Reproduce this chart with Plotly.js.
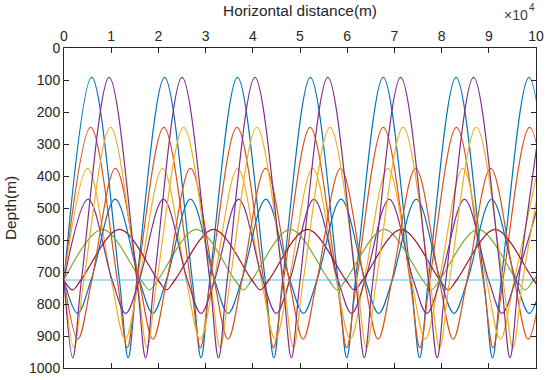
<!DOCTYPE html>
<html>
<head>
<meta charset="utf-8">
<script src="https://cdn.plot.ly/plotly-3.0.1.min.js"></script>
<style>html,body{margin:0;padding:0;background:#fff;}#chart{width:550px;height:380px;}</style>
</head>
<body>
<div id="chart"></div>
<script>
// Horizontal distance in units of 1e4 m (axis shows x10^4), depth in m.
// Key points (source crossings, upper turning points, lower turning points).

// Ray 1 (blue, largest angle, up-going)
const ray1X = [0,0.587,1.174,1.359, 1.544,2.131,2.718,2.903, 3.088,3.675,4.262,4.447, 4.632,5.219,5.806,5.991, 6.176,6.763,7.350,7.535, 7.720,8.307,8.894,9.079, 9.264,9.851,10.438];
const ray1Z = [725,92,725,968, 725,92,725,968, 725,92,725,968, 725,92,725,968, 725,92,725,968, 725,92,725,968, 725,92,725];
// Ray 2 (orange, up-going)
const ray2X = [0,0.565,1.130,1.340, 1.550,2.115,2.680,2.890, 3.100,3.665,4.230,4.440, 4.650,5.215,5.780,5.990, 6.200,6.765,7.330,7.540, 7.750,8.315,8.880,9.090, 9.300,9.865,10.430];
const ray2Z = [725,248,725,937, 725,248,725,937, 725,248,725,937, 725,248,725,937, 725,248,725,937, 725,248,725,937, 725,248,725];
// Ray 3 (yellow, up-going)
const ray3X = [0,0.500,1.000,1.295, 1.590,2.090,2.590,2.885, 3.180,3.680,4.180,4.475, 4.770,5.270,5.770,6.065, 6.360,6.860,7.360,7.655, 7.950,8.450,8.950,9.245, 9.540,10.040];
const ray3Z = [725,376,725,910, 725,376,725,910, 725,376,725,910, 725,376,725,910, 725,376,725,910, 725,376,725,910, 725,376];
// Ray 4 (purple, up-going)
const ray4X = [0,0.510,1.020,1.308, 1.595,2.105,2.615,2.903, 3.190,3.700,4.210,4.498, 4.785,5.295,5.805,6.093, 6.380,6.890,7.400,7.688, 7.975,8.485,8.995,9.283, 9.570,10.080];
const ray4Z = [725,472,725,829, 725,472,725,829, 725,472,725,829, 725,472,725,829, 725,472,725,829, 725,472,725,829, 725,472];
// Ray 5 (green, smallest angle, up-going)
const ray5X = [0,0.815,1.630,1.810, 1.990,2.805,3.620,3.800, 3.980,4.795,5.610,5.790, 5.970,6.785,7.600,7.780, 7.960,8.775,9.590,9.770, 9.950,10.765];
const ray5Z = [725,567,725,756, 725,567,725,756, 725,567,725,756, 725,567,725,756, 725,567,725,756, 725,567];
// Ray 6 (light blue, horizontal along the axis)
const ray6X = [0,10];
const ray6Z = [725,725];
// Ray 7 (dark red, smallest angle, down-going)
const ray7X = [0,0.180,0.360,1.175, 1.990,2.170,2.350,3.165, 3.980,4.160,4.340,5.155, 5.970,6.150,6.330,7.145, 7.960,8.140,8.320,9.135, 9.950,10.130,10.310];
const ray7Z = [725,756,725,567, 725,756,725,567, 725,756,725,567, 725,756,725,567, 725,756,725,567, 725,756,725];
// Ray 8 (blue, down-going)
const ray8X = [0,0.288,0.575,1.085, 1.595,1.883,2.170,2.680, 3.190,3.478,3.765,4.275, 4.785,5.073,5.360,5.870, 6.380,6.668,6.955,7.465, 7.975,8.263,8.550,9.060, 9.570,9.858,10.145];
const ray8Z = [725,829,725,472, 725,829,725,472, 725,829,725,472, 725,829,725,472, 725,829,725,472, 725,829,725,472, 725,829,725];
// Ray 9 (orange, down-going)
const ray9X = [0,0.295,0.590,1.090, 1.590,1.885,2.180,2.680, 3.180,3.475,3.770,4.270, 4.770,5.065,5.360,5.860, 6.360,6.655,6.950,7.450, 7.950,8.245,8.540,9.040, 9.540,9.835,10.130];
const ray9Z = [725,910,725,376, 725,910,725,376, 725,910,725,376, 725,910,725,376, 725,910,725,376, 725,910,725,376, 725,910,725];
// Ray 10 (yellow, down-going)
const ray10X = [0,0.210,0.420,0.985, 1.550,1.760,1.970,2.535, 3.100,3.310,3.520,4.085, 4.650,4.860,5.070,5.635, 6.200,6.410,6.620,7.185, 7.750,7.960,8.170,8.735, 9.300,9.510,9.720,10.285];
const ray10Z = [725,937,725,248, 725,937,725,248, 725,937,725,248, 725,937,725,248, 725,937,725,248, 725,937,725,248, 725,937,725,248];
// Ray 11 (purple, largest angle, down-going)
const ray11X = [0,0.185,0.370,0.957, 1.544,1.729,1.914,2.501, 3.088,3.273,3.458,4.045, 4.632,4.817,5.002,5.589, 6.176,6.361,6.546,7.133, 7.720,7.905,8.090,8.677, 9.264,9.449,9.634,10.221];
const ray11Z = [725,968,725,92, 725,968,725,92, 725,968,725,92, 725,968,725,92, 725,968,725,92, 725,968,725,92, 725,968,725,92];

const xTicks = [0,1,2,3,4,5,6,7,8,9,10];
const yTicks = [0,100,200,300,400,500,600,700,800,900,1000];

const rays = [
  [ray1X, ray1Z, '#0072BD'],
  [ray2X, ray2Z, '#D95319'],
  [ray3X, ray3Z, '#EDB120'],
  [ray4X, ray4Z, '#7E2F8E'],
  [ray5X, ray5Z, '#77AC30'],
  [ray6X, ray6Z, '#4DBEEE'],
  [ray7X, ray7Z, '#A2142F'],
  [ray8X, ray8Z, '#0072BD'],
  [ray9X, ray9Z, '#D95319'],
  [ray10X, ray10Z, '#EDB120'],
  [ray11X, ray11Z, '#7E2F8E']
];

const traces = rays.map(r => ({
  x: r[0], y: r[1], type: 'scatter', mode: 'lines',
  line: {color: r[2], width: 1.2, shape: 'spline', smoothing: 1},
  hoverinfo: 'skip', showlegend: false
}));

const FONT = 'Liberation Sans, Arial, Helvetica, sans-serif';
const AX = '#262626';

const layout = {
  width: 550, height: 380,
  margin: {l: 64, r: 14, t: 48, b: 12},
  paper_bgcolor: '#fff', plot_bgcolor: '#fff',
  font: {family: FONT, color: AX, size: 14},
  showlegend: false,
  xaxis: {
    side: 'top', range: [0, 10], tickvals: xTicks, ticktext: xTicks.map(String),
    ticks: 'inside', ticklen: 5, tickwidth: 1, tickcolor: AX,
    showline: true, linecolor: AX, linewidth: 1, mirror: 'allticks',
    showgrid: false, zeroline: false,
    tickfont: {size: 14, color: AX, family: FONT},
    title: {text: 'Horizontal distance(m)', font: {size: 15.4, color: AX, family: FONT}, standoff: 8}
  },
  yaxis: {
    range: [1000, 0], tickvals: yTicks, ticktext: yTicks.map(String),
    ticks: 'inside', ticklen: 5, tickwidth: 1, tickcolor: AX,
    showline: true, linecolor: AX, linewidth: 1, mirror: 'allticks',
    showgrid: false, zeroline: false,
    tickfont: {size: 14, color: AX, family: FONT},
    title: {text: 'Depth(m)', font: {size: 15.4, color: AX, family: FONT}, standoff: 8}
  },
  annotations: [
    {
      xref: 'paper', yref: 'paper', x: 0.987, y: 1.103, xanchor: 'right', yanchor: 'middle',
      showarrow: false, text: '×10', font: {size: 14, color: '#404040', family: FONT}
    },
    {
      xref: 'paper', yref: 'paper', x: 0.981, y: 1.126, xanchor: 'left', yanchor: 'middle',
      showarrow: false, text: '4', font: {size: 10, color: '#404040', family: FONT}
    }
  ]
};

Plotly.newPlot('chart', traces, layout, {staticPlot: true, displayModeBar: false});
</script>
</body>
</html>
